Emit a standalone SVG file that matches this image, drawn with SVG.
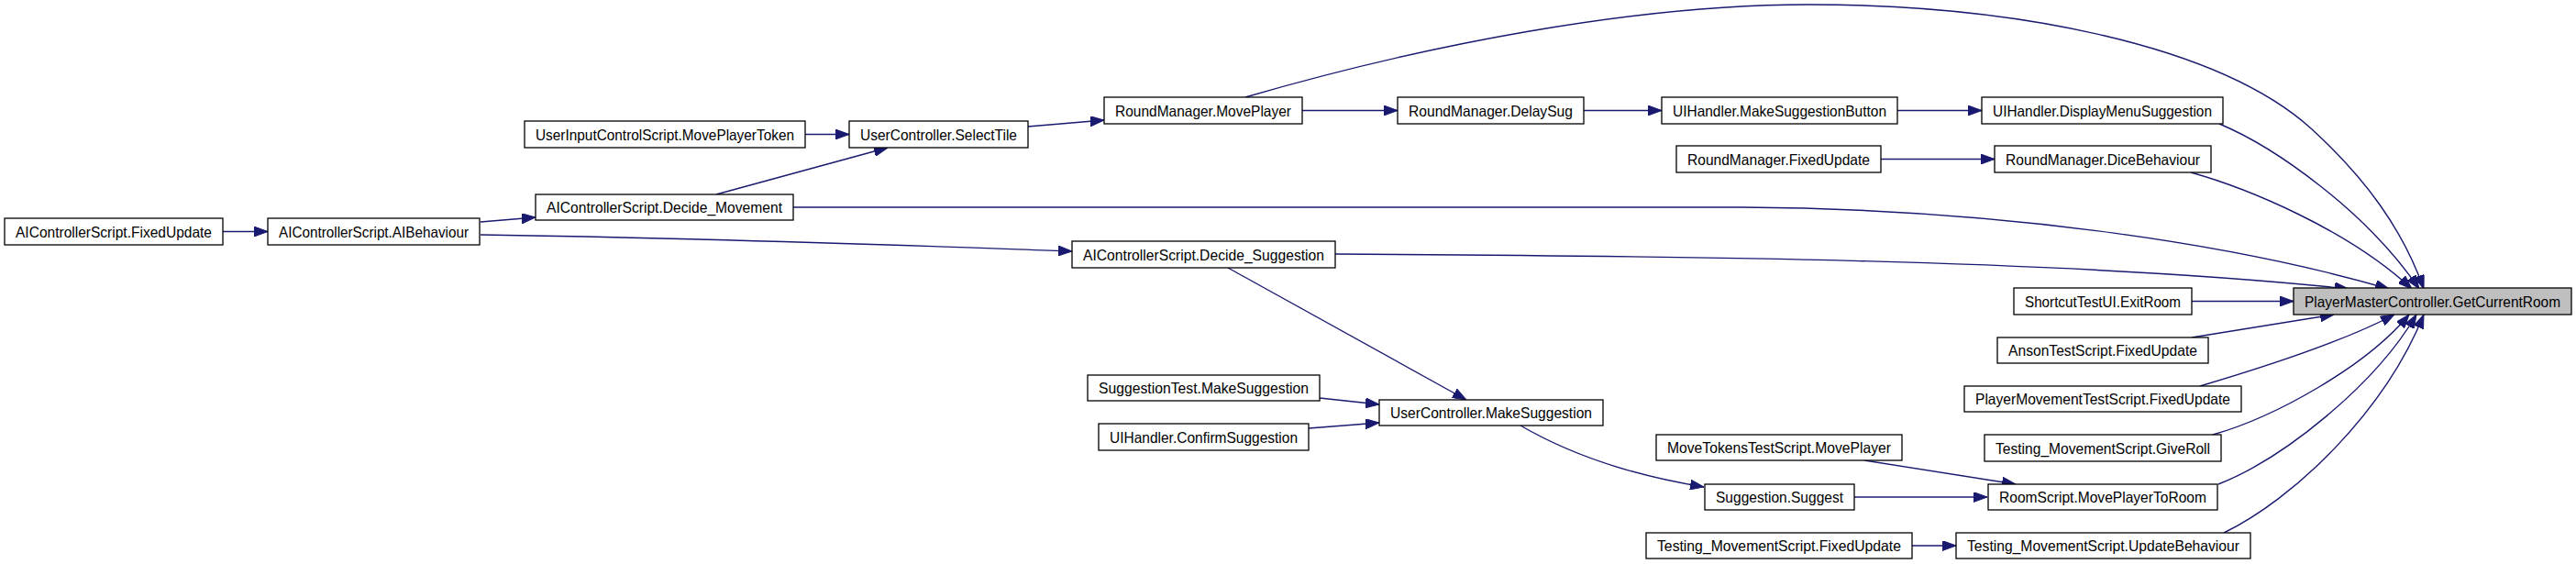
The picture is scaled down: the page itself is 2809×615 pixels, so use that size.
<svg xmlns="http://www.w3.org/2000/svg" width="2809" height="615" viewBox="0 0 2809 615">
<style>
.n rect{fill:#fff;stroke:#000;stroke-width:1.3}
.n.cur rect{fill:#bfbfbf}
.n text{font-family:"Liberation Sans",Arial,sans-serif;font-size:16.5px;fill:#000;text-anchor:middle}
#edges path{fill:none;stroke:#191970;stroke-width:1.4;marker-end:url(#ah)}
</style>
<defs>
<marker id="ah" markerUnits="userSpaceOnUse" markerWidth="15" markerHeight="11" viewBox="0 0 15 11" refX="15" refY="5.5" orient="auto">
<path d="M0,0 L15,5.5 L0,11 z" fill="#191970" stroke="#191970" stroke-width="1"/>
</marker>
</defs>
<rect x="0" y="0" width="2809" height="615" fill="#fff"/>
<g id="edges">
<path d="M243,252.5 L292,252.5"/>
<path d="M524,242 L584,237"/>
<path d="M524,256 C800,260 1000,268 1169,274"/>
<path d="M878,146.5 L926,146.5"/>
<path d="M781,212 L968,161"/>
<path d="M1121,138 L1204,131"/>
<path d="M1420,120.5 L1524,120.5"/>
<path d="M1727,120.5 L1812,120.5"/>
<path d="M2069,120.5 L2161,120.5"/>
<path d="M2051,173.5 L2175,173.5"/>
<path d="M1339,292 L1599,436"/>
<path d="M1439,434 L1504,441"/>
<path d="M1427,467 L1504,461"/>
<path d="M1658,464 C1720,500 1790,520 1858,531"/>
<path d="M2033,502 L2198,528"/>
<path d="M2022,542 L2167,542"/>
<path d="M2085,595 L2133,595"/>
<path d="M2390,328.5 L2501,328.5"/>
<path d="M2390,368 L2545,343"/>
<path d="M2399,421 C2470,400 2560,370 2611,343"/>
<path d="M2413,474 C2480,455 2580,400 2627,343"/>
<path d="M2419,528 C2490,500 2590,420 2635,343"/>
<path d="M2425,581 C2500,545 2600,450 2643,343"/>
<path d="M1456,277 C1800,279 2250,282 2561,315"/>
<path d="M865,226 L1900,226 C2200,228 2450,270 2605,315"/>
<path d="M2389,188 C2450,205 2560,250 2630,315"/>
<path d="M2420,135 C2480,160 2580,230 2638,315"/>
<path d="M1358,106 C1550,50 1780,5 1972,5 C2200,5 2420,50 2520,140 C2580,195 2620,250 2643,315"/>
</g>
<g id="n1" class="n"><rect x="5" y="238" width="238" height="29"/><text x="124" y="258.5" textLength="214" lengthAdjust="spacingAndGlyphs">AIControllerScript.FixedUpdate</text></g>
<g id="n2" class="n"><rect x="292" y="238" width="231" height="29"/><text x="407.5" y="258.5" textLength="207" lengthAdjust="spacingAndGlyphs">AIControllerScript.AIBehaviour</text></g>
<g id="n3" class="n"><rect x="572" y="132" width="306" height="29"/><text x="725" y="152.5" textLength="282" lengthAdjust="spacingAndGlyphs">UserInputControlScript.MovePlayerToken</text></g>
<g id="n4" class="n"><rect x="584" y="212" width="281" height="28"/><text x="724.5" y="232" textLength="257" lengthAdjust="spacingAndGlyphs">AIControllerScript.Decide_Movement</text></g>
<g id="n5" class="n"><rect x="926" y="132" width="195" height="29"/><text x="1023.5" y="152.5" textLength="171" lengthAdjust="spacingAndGlyphs">UserController.SelectTile</text></g>
<g id="n6" class="n"><rect x="1204" y="106" width="216" height="29"/><text x="1312" y="126.5" textLength="192" lengthAdjust="spacingAndGlyphs">RoundManager.MovePlayer</text></g>
<g id="n7" class="n"><rect x="1169" y="263" width="287" height="29"/><text x="1312.5" y="283.5" textLength="263" lengthAdjust="spacingAndGlyphs">AIControllerScript.Decide_Suggestion</text></g>
<g id="n8" class="n"><rect x="1524" y="106" width="203" height="29"/><text x="1625.5" y="126.5" textLength="179" lengthAdjust="spacingAndGlyphs">RoundManager.DelaySug</text></g>
<g id="n9" class="n"><rect x="1812" y="106" width="257" height="29"/><text x="1940.5" y="126.5" textLength="233" lengthAdjust="spacingAndGlyphs">UIHandler.MakeSuggestionButton</text></g>
<g id="n10" class="n"><rect x="1828" y="159" width="223" height="29"/><text x="1939.5" y="179.5" textLength="199" lengthAdjust="spacingAndGlyphs">RoundManager.FixedUpdate</text></g>
<g id="n11" class="n"><rect x="2161" y="106" width="263" height="29"/><text x="2292.5" y="126.5" textLength="239" lengthAdjust="spacingAndGlyphs">UIHandler.DisplayMenuSuggestion</text></g>
<g id="n12" class="n"><rect x="2175" y="159" width="236" height="29"/><text x="2293" y="179.5" textLength="212" lengthAdjust="spacingAndGlyphs">RoundManager.DiceBehaviour</text></g>
<g id="n13" class="n"><rect x="1186" y="409" width="253" height="28"/><text x="1312.5" y="429" textLength="229" lengthAdjust="spacingAndGlyphs">SuggestionTest.MakeSuggestion</text></g>
<g id="n14" class="n"><rect x="1198" y="462" width="229" height="29"/><text x="1312.5" y="482.5" textLength="205" lengthAdjust="spacingAndGlyphs">UIHandler.ConfirmSuggestion</text></g>
<g id="n15" class="n"><rect x="1504" y="436" width="244" height="28"/><text x="1626" y="456" textLength="220" lengthAdjust="spacingAndGlyphs">UserController.MakeSuggestion</text></g>
<g id="n16" class="n"><rect x="1806" y="474" width="268" height="28"/><text x="1940" y="494" textLength="244" lengthAdjust="spacingAndGlyphs">MoveTokensTestScript.MovePlayer</text></g>
<g id="n17" class="n"><rect x="1859" y="528" width="163" height="28"/><text x="1940.5" y="548" textLength="139" lengthAdjust="spacingAndGlyphs">Suggestion.Suggest</text></g>
<g id="n18" class="n"><rect x="1795" y="581" width="290" height="28"/><text x="1940" y="601" textLength="266" lengthAdjust="spacingAndGlyphs">Testing_MovementScript.FixedUpdate</text></g>
<g id="n19" class="n"><rect x="2196" y="314" width="194" height="29"/><text x="2293" y="334.5" textLength="170" lengthAdjust="spacingAndGlyphs">ShortcutTestUI.ExitRoom</text></g>
<g id="n20" class="n"><rect x="2178" y="368" width="230" height="28"/><text x="2293" y="388" textLength="206" lengthAdjust="spacingAndGlyphs">AnsonTestScript.FixedUpdate</text></g>
<g id="n21" class="n"><rect x="2142" y="421" width="302" height="28"/><text x="2293" y="441" textLength="278" lengthAdjust="spacingAndGlyphs">PlayerMovementTestScript.FixedUpdate</text></g>
<g id="n22" class="n"><rect x="2164" y="474" width="258" height="29"/><text x="2293" y="494.5" textLength="234" lengthAdjust="spacingAndGlyphs">Testing_MovementScript.GiveRoll</text></g>
<g id="n23" class="n"><rect x="2168" y="528" width="250" height="28"/><text x="2293" y="548" textLength="226" lengthAdjust="spacingAndGlyphs">RoomScript.MovePlayerToRoom</text></g>
<g id="n24" class="n"><rect x="2133" y="581" width="321" height="28"/><text x="2293.5" y="601" textLength="297" lengthAdjust="spacingAndGlyphs">Testing_MovementScript.UpdateBehaviour</text></g>
<g id="n25" class="n cur"><rect x="2501" y="314" width="303" height="29"/><text x="2652.5" y="334.5" textLength="279" lengthAdjust="spacingAndGlyphs">PlayerMasterController.GetCurrentRoom</text></g>
</svg>
